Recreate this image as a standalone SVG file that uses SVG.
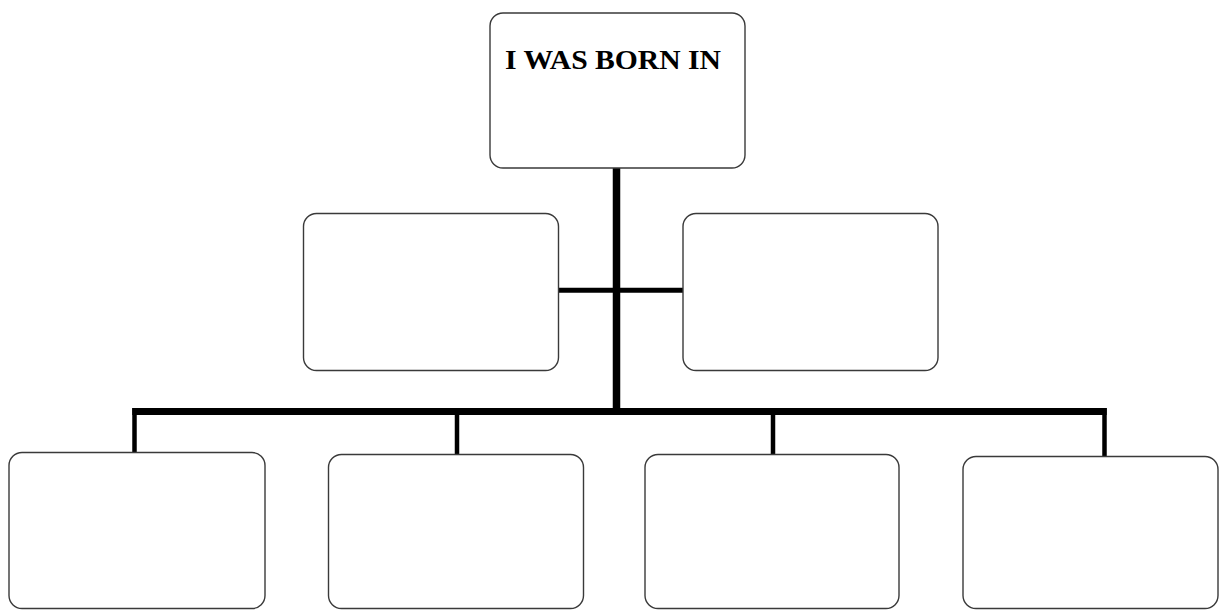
<svg xmlns="http://www.w3.org/2000/svg" width="1225" height="610" viewBox="0 0 1225 610">
<style>
.box{fill:#fff;stroke:#3a3a3a;stroke-width:1.4}
.c{stroke:#000;fill:none;stroke-linecap:butt}
.t{font-family:"Liberation Serif","Times New Roman",serif;font-weight:bold;font-size:28px;fill:#000}
</style>
<rect width="1225" height="610" fill="#fff"/>
<g id="connectors">
<line class="c" x1="616.5" y1="168" x2="616.5" y2="415" stroke-width="7.5"/>
<line class="c" x1="558" y1="290.2" x2="683" y2="290.2" stroke-width="5"/>
<line class="c" x1="132.3" y1="411.5" x2="1106.7" y2="411.5" stroke-width="7"/>
<line class="c" x1="134.5" y1="408" x2="134.5" y2="452.5" stroke-width="4.5"/>
<line class="c" x1="457" y1="411" x2="457" y2="454.5" stroke-width="4.5"/>
<line class="c" x1="773" y1="411" x2="773" y2="454.5" stroke-width="4.5"/>
<line class="c" x1="1104.5" y1="408" x2="1104.5" y2="456.5" stroke-width="4.5"/>
</g>
<g id="root">
<rect class="box" x="490" y="13" width="255" height="155" rx="13"/>
<text class="t" x="505" y="69" textLength="216" lengthAdjust="spacingAndGlyphs">I WAS BORN IN</text>
</g>
<g id="mid-left"><rect class="box" x="303.5" y="213.5" width="255" height="157" rx="13"/></g>
<g id="mid-right"><rect class="box" x="683" y="213.5" width="255" height="157" rx="13"/></g>
<g id="bottom-1"><rect class="box" x="9" y="452.5" width="256" height="156" rx="13"/></g>
<g id="bottom-2"><rect class="box" x="328.5" y="454.5" width="255" height="154" rx="13"/></g>
<g id="bottom-3"><rect class="box" x="645" y="454.5" width="254" height="154" rx="13"/></g>
<g id="bottom-4"><rect class="box" x="963" y="456.5" width="255" height="152" rx="13"/></g>
</svg>
